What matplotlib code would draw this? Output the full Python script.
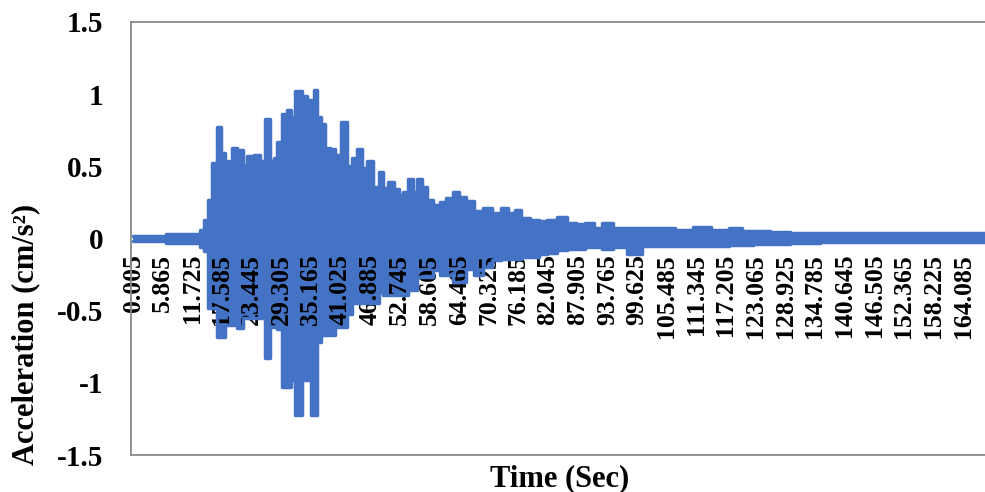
import numpy as np
import matplotlib.pyplot as plt

plt.rcParams['font.family'] = ['Liberation Serif', 'DejaVu Serif']
plt.rcParams['font.weight'] = 'bold'

# envelope of the accelerogram (peak positive / negative values), time in sec
time_s = [0.0, 12.85, 13.64, 14.43, 15.22, 16.01, 17.0, 17.79, 18.58, 19.17,
          19.96, 21.15, 22.13, 23.12, 24.51, 25.69, 26.68, 27.47, 28.26, 28.85,
          30.04, 30.83, 31.62, 32.41, 33.0, 33.99, 34.78, 35.38, 35.97, 36.76,
          37.55, 38.34, 39.53, 40.51, 41.7, 42.89, 43.87, 44.86, 45.85, 46.84,
          48.22, 49.01, 50.0, 50.99, 52.17, 52.96, 53.75, 54.94, 55.73, 56.72,
          57.71, 58.7, 60.08, 61.26, 62.65, 63.83, 65.02, 66.6, 68.18, 70.16,
          71.94, 73.52, 74.9, 76.09, 77.47, 79.45, 81.03, 82.81, 84.78, 86.76,
          88.34, 90.32, 91.9, 93.68, 96.25, 99.21, 102.17, 105.14, 109.09, 112.45,
          116.01, 119.57, 121.34, 123.91, 127.87, 131.82, 139.72, 147.63, 155.53, 168.38]
acc_max = [0.015, 0.03, 0.06, 0.13, 0.27, 0.52, 0.77, 0.59, 0.54, 0.50,
           0.63, 0.61, 0.51, 0.57, 0.58, 0.54, 0.83, 0.54, 0.56, 0.67,
           0.86, 0.89, 0.84, 1.02, 1.02, 0.99, 0.96, 0.89, 1.03, 0.84,
           0.79, 0.63, 0.62, 0.58, 0.81, 0.50, 0.56, 0.62, 0.49, 0.54,
           0.36, 0.46, 0.35, 0.39, 0.34, 0.30, 0.32, 0.41, 0.32, 0.41,
           0.36, 0.27, 0.23, 0.25, 0.28, 0.32, 0.29, 0.26, 0.19, 0.21,
           0.18, 0.21, 0.18, 0.20, 0.14, 0.13, 0.12, 0.13, 0.15, 0.11,
           0.10, 0.11, 0.07, 0.11, 0.07, 0.07, 0.07, 0.07, 0.06, 0.08,
           0.06, 0.07, 0.05, 0.05, 0.045, 0.04, 0.035, 0.035, 0.035, 0.035]
acc_min = [-0.015, -0.03, -0.06, -0.09, -0.48, -0.48, -0.68, -0.68, -0.60, -0.60,
           -0.60, -0.62, -0.55, -0.55, -0.55, -0.55, -0.83, -0.61, -0.61, -0.63,
           -1.03, -1.03, -0.98, -1.22, -1.22, -0.98, -0.98, -1.22, -1.22, -0.72,
           -0.67, -0.67, -0.67, -0.61, -0.61, -0.52, -0.45, -0.45, -0.45, -0.45,
           -0.45, -0.37, -0.39, -0.39, -0.39, -0.39, -0.39, -0.36, -0.36, -0.27,
           -0.27, -0.27, -0.22, -0.25, -0.25, -0.30, -0.30, -0.21, -0.25, -0.20,
           -0.15, -0.14, -0.14, -0.14, -0.13, -0.13, -0.11, -0.10, -0.08, -0.07,
           -0.07, -0.06, -0.06, -0.07, -0.06, -0.11, -0.05, -0.05, -0.05, -0.05,
           -0.05, -0.045, -0.045, -0.035, -0.035, -0.03, -0.025, -0.025, -0.025, -0.025]

# category labels shown every 5.86 s
tick_vals = [0.005 + 5.86 * k for k in range(29)]
tick_labels = ['%g' % round(v, 3) for v in tick_vals]

blue = '#4472C4'
grey = '#898989'

fig = plt.figure(figsize=(9.85, 4.92), dpi=100)
ax = fig.add_axes([131 / 985, 37 / 492, 854 / 985, 433 / 492])

ax.fill_between(time_s, acc_min, acc_max, step='mid', color=blue, lw=0)
ax.plot(time_s, acc_max, drawstyle='steps-mid', color=blue, lw=2.5,
        solid_joinstyle='round', solid_capstyle='round')
ax.plot(time_s, acc_min, drawstyle='steps-mid', color=blue, lw=2.5,
        solid_joinstyle='round', solid_capstyle='round')

ax.set_xlim(-0.4, 168.4)
ax.set_ylim(-1.5, 1.5)
ax.set_yticks([-1.5, -1, -0.5, 0, 0.5, 1, 1.5])
ax.set_yticklabels(['-1.5', '-1', '-0.5', '0', '0.5', '1', '1.5'])
ax.tick_params(axis='y', length=0, pad=20, labelsize=21)

# horizontal category axis crosses at zero
ax.spines['bottom'].set_position(('data', 0))
ax.spines['bottom'].set_color('none')
ax.set_xticks(tick_vals)
ax.set_xticklabels(tick_labels, rotation=90)
ax.tick_params(axis='x', length=0, pad=11, labelsize=18.5)

ax.spines['right'].set_visible(False)
for s in ['top', 'left']:
    ax.spines[s].set_color(grey)
    ax.spines[s].set_linewidth(1.3)
ax.plot([0, 1], [0, 0], transform=ax.transAxes, color=grey, lw=1.3, clip_on=False)

fig.text(0.568, 0.028, 'Time (Sec)', ha='center', va='center', fontsize=22, fontweight='bold')
fig.text(0.026, 0.32, 'Acceleration (cm/s²)', ha='center', va='center', rotation=90,
         fontsize=22, fontweight='bold')

fig.savefig('out.png', dpi=100)
